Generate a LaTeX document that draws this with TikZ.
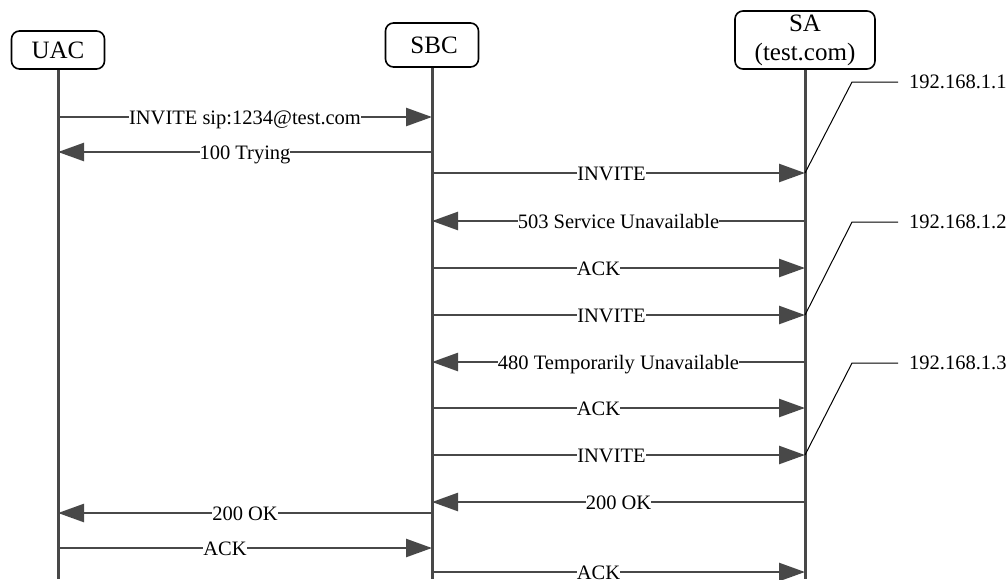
\documentclass[tikz,border=0pt]{standalone}
\usepackage{fontspec}
\setmainfont{Liberation Serif}
\usetikzlibrary{arrows.meta, positioning}
\definecolor{lineGray}{HTML}{484848}

\begin{document}
\begin{tikzpicture}
  [
    x=1pt, y=-1pt,
    Head/.style={rectangle, rounded corners=8pt, draw=black, line width=1.6pt, fill=white, inner sep=0pt, align=center, font=\fontsize{25}{29}\selectfont},
    Life/.style={draw=lineGray, line width=3pt},
    Msg/.style={draw=lineGray, line width=2.5pt, -{Triangle[length=26pt, width=18pt]}},
    Lbl/.style={fill=white, inner sep=0pt, text height=14pt, text depth=0pt, font=\fontsize{20.5}{22}\selectfont},
    Note/.style={draw=black, line width=1pt},
    Ip/.style={anchor=west, inner sep=0pt, inner xsep=11pt, font=\fontsize{20.5}{22}\selectfont}
  ]
  \useasboundingbox (0,0) rectangle (1008,579);

  % Nodes
  \node[Head, minimum width=93pt, minimum height=38pt] (uac) at (58, 50) {UAC};

  \node[Head, minimum width=93pt, minimum height=44pt] (sbc) at (432, 45) {\,SBC};

  \node[Head, minimum width=140pt, minimum height=58pt] (sa) at (805, 40) {SA\\(test.com)};

  \coordinate (uac-end) at (58, 579);
  \coordinate (sbc-end) at (432, 579);
  \coordinate (sa-end) at (805, 579);

  \foreach \n/\y in {1/117, 2/152, 3/173, 4/221, 5/268, 6/315, 7/362, 8/408, 9/455, 10/502, 11/513, 12/548, 13/572}{
    \coordinate (u\n) at (58, \y);
    \coordinate (b\n) at (432, \y);
    \coordinate (s\n) at (805, \y);
  }

  \node[Ip] (ip1) at (898, 82) {192.168.1.1};
  \node[Ip] (ip2) at (898, 222) {192.168.1.2};
  \node[Ip] (ip3) at (898, 363) {192.168.1.3};

  \coordinate (k1) at (852, 82);
  \coordinate (k2) at (852, 222);
  \coordinate (k3) at (852, 363);

  % Lines
  \path [Life] (uac.south) -- (uac-end);
  \path [Life] (sbc.south) -- (sbc-end);
  \path [Life] (sa.south) -- (sa-end);

  \path [Msg] (u1) -- node[Lbl] {INVITE sip:1234@test.com} (b1);
  \path [Msg] (b2) -- node[Lbl] {100 Trying} (u2);
  \path [Msg] (b3) -- node[Lbl, xshift=-7pt] {INVITE} (s3);
  \path [Msg] (s4) -- node[Lbl] {503 Service Unavailable} (b4);
  \path [Msg] (b5) -- node[Lbl, xshift=-20pt] {ACK} (s5);
  \path [Msg] (b6) -- node[Lbl, xshift=-7pt] {INVITE} (s6);
  \path [Msg] (s7) -- node[Lbl] {480 Temporarily Unavailable} (b7);
  \path [Msg] (b8) -- node[Lbl, xshift=-20pt] {ACK} (s8);
  \path [Msg] (b9) -- node[Lbl, xshift=-7pt] {INVITE} (s9);
  \path [Msg] (s10) -- node[Lbl] {200 OK} (b10);
  \path [Msg] (b11) -- node[Lbl] {200 OK} (u11);
  \path [Msg] (u12) -- node[Lbl, xshift=-20pt] {ACK} (b12);
  \path [Msg] (b13) -- node[Lbl, xshift=-20pt] {ACK} (s13);

  \path [Note] (s3) -- (k1) -- (ip1.west);
  \path [Note] (s6) -- (k2) -- (ip2.west);
  \path [Note] (s9) -- (k3) -- (ip3.west);

\end{tikzpicture}
\end{document}
